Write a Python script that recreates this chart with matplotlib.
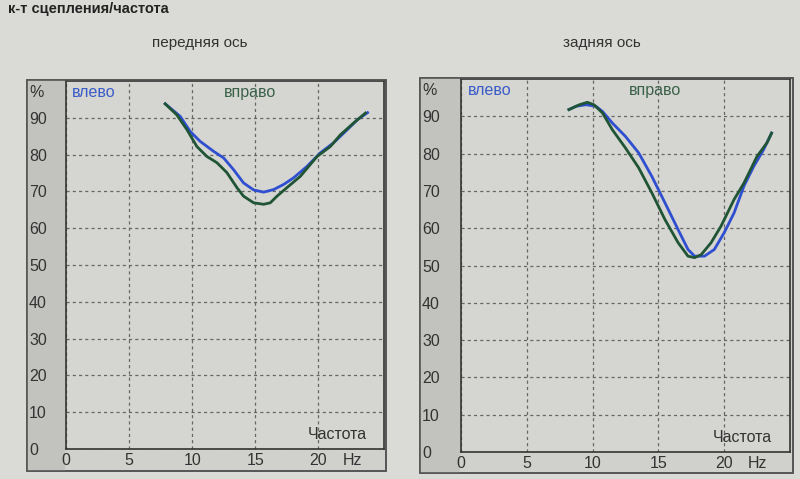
import matplotlib.pyplot as plt
from matplotlib.patches import Rectangle

plt.rcParams['font.family'] = ['Liberation Sans', 'DejaVu Sans']

# front axle (передняя ось)
front_left_x = [7.86, 9.05, 9.84, 10.63, 11.69, 12.49, 13.28, 14.07, 14.87, 15.66,
                16.46, 17.25, 18.04, 19.1, 20.16, 21.2, 22.3, 23.1, 23.9]
front_left_y = [93.8, 90.4, 86.3, 83.6, 80.9, 79.1, 75.9, 72.3, 70.4, 69.8,
                70.5, 71.9, 73.7, 76.8, 80.5, 83.2, 86.8, 89.5, 91.4]
front_right_x = [7.86, 8.78, 9.58, 10.37, 11.16, 11.96, 12.75, 13.55, 14.07, 14.87,
                 15.66, 16.19, 16.72, 17.5, 18.57, 19.9, 20.95, 21.75, 22.8, 23.73]
front_right_y = [93.8, 90.8, 86.8, 82.2, 79.5, 77.8, 75.1, 71.0, 68.7, 66.9,
                 66.5, 66.9, 68.7, 71.0, 74.1, 79.5, 82.2, 85.4, 88.6, 91.3]

# rear axle (задняя ось)
rear_left_x = [8.2, 8.75, 9.5, 10.25, 10.75, 11.5, 12.5, 13.5, 14.5, 15.5, 16.5,
               17.25, 17.75, 18.5, 19.25, 20.0, 20.75, 21.5, 22.25, 23.0, 23.6]
rear_left_y = [91.8, 92.7, 93.1, 92.7, 91.3, 88.2, 84.6, 80.2, 73.9, 66.8, 59.6,
               54.3, 52.5, 52.5, 54.3, 58.8, 64.1, 71.3, 76.6, 81.1, 85.5]
rear_right_x = [8.2, 9.0, 9.6, 10.1, 10.75, 11.5, 12.5, 13.5, 14.5, 15.5, 16.5,
                17.25, 17.75, 18.25, 19.0, 19.75, 20.75, 21.5, 22.5, 23.25, 23.6]
rear_right_y = [91.8, 93.1, 93.75, 93.1, 90.9, 86.4, 81.5, 76.2, 69.5, 62.3, 56.1,
                52.5, 52.1, 52.9, 56.1, 60.5, 67.7, 72.1, 79.3, 82.9, 85.5]

x_ticks = [0, 5, 10, 15, 20]
y_ticks = [0, 10, 20, 30, 40, 50, 60, 70, 80, 90]

W, H = 800, 479
bg = '#dadad6'
plot_bg = '#d5d5d1'
strip_bg = '#c2c2be'
blue = '#2f4fd0'
green = '#1f5535'

fig = plt.figure(figsize=(W / 100, H / 100), dpi=100)
fig.patch.set_facecolor(bg)


def fx(px):
    return px / W


def fy(py):
    return 1 - py / H


def box(x0, y0, x1, y1, **kw):
    r = Rectangle((fx(x0), fy(y1)), fx(x1) - fx(x0), fy(y0) - fy(y1),
                  transform=fig.transFigure, **kw)
    fig.add_artist(r)


def panel(outer, plot, xmax, title, title_x, green_x, xl, yl, xr, yr):
    ox0, oy0, ox1, oy1 = outer
    px0, py0, px1, py1 = plot
    box(ox0, oy0, ox1, oy1, facecolor='#d0d0cc', edgecolor='#555555', lw=1.2, zorder=0)
    box(ox0, oy0, px0 - 1, oy1, facecolor=strip_bg, edgecolor='none', zorder=0)
    box(ox0, oy0, ox1, oy1, facecolor='none', edgecolor='#555555', lw=1.2, zorder=0.5)

    ax = fig.add_axes([fx(px0), fy(py1), fx(px1) - fx(px0), fy(py0) - fy(py1)])
    ax.set_facecolor(plot_bg)
    ax.plot(xl, yl, color=blue, lw=2.0, zorder=3)
    ax.plot(xr, yr, color=green, lw=2.0, zorder=3)
    ax.set_xlim(0, xmax)
    ax.set_ylim(0, 100)
    ax.set_xticks(x_ticks)
    ax.set_yticks(y_ticks)
    ax.grid(True, color='#666666', ls=(0, (2.5, 2.5)), lw=0.9)
    for s in ax.spines.values():
        s.set_color('#333333')
        s.set_linewidth(1.2)
    ax.tick_params(length=0, labelsize=11.5, labelcolor='#333333')
    pad = (px0 - ox0 - 2) * 0.72
    for lab in ax.get_yticklabels():
        lab.set_horizontalalignment('left')
    ax.tick_params(axis='y', pad=pad)
    ax.tick_params(axis='x', pad=3)
    ax.text(-(px0 - ox0 - 2) / (px1 - px0), 0.97, '%', transform=ax.transAxes,
            fontsize=11.5, color='#333333', ha='left', va='center')
    ax.text(0.02, 0.97, 'влево', transform=ax.transAxes, fontsize=11.5,
            color='#3a5cc8', ha='left', va='center')
    ax.text(green_x, 0.97, 'вправо', transform=ax.transAxes, fontsize=11.5,
            color='#3b6248', ha='center', va='center')
    ax.text(0.945, 0.02, 'Частота', transform=ax.transAxes, fontsize=11.5,
            color='#333333', ha='right', va='bottom')
    ax.text(0.93, -0.012, 'Hz', transform=ax.transAxes, fontsize=11.5,
            color='#333333', ha='right', va='top')
    fig.text(fx(title_x), fy(43), title, fontsize=11, color='#333333',
             ha='center', va='center')
    return ax


panel((27, 80, 386, 471), (66, 81, 384, 449), 25.2, 'передняя ось', 200,
      0.58, front_left_x, front_left_y, front_right_x, front_right_y)
panel((420, 78, 793, 473), (461, 79, 790, 452), 25.0, 'задняя ось', 602,
      0.59, rear_left_x, rear_left_y, rear_right_x, rear_right_y)

fig.text(fx(8), fy(9), 'к-т сцепления/частота', fontsize=10.5, fontweight='bold',
         color='#222222', ha='left', va='center')

fig.savefig('out.png', dpi=100, facecolor=fig.get_facecolor())
